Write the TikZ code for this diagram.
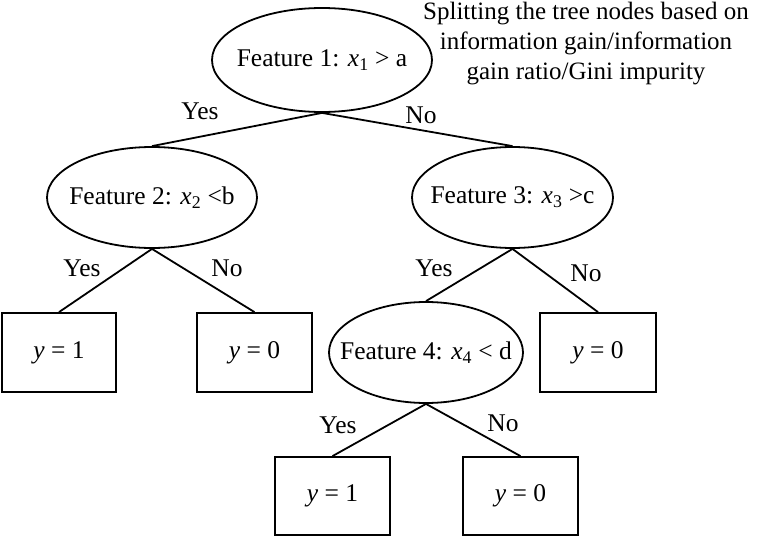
\documentclass[tikz,border=0pt]{standalone}
\usepackage{fontspec}
\setmainfont{Liberation Serif}
\usetikzlibrary{shapes.geometric}
\newcommand{\xs}[1]{\textit{x}\textsubscript{#1}}
\newcommand{\ovtext}[1]{\makebox[0pt]{#1}}
\begin{document}
\begin{tikzpicture}[x=1pt,y=-1pt,
  font=\fontsize{25.5}{30}\selectfont,
  every path/.style={line width=1.8pt},
  oval/.style={draw,ellipse,inner sep=0pt},
  leaf/.style={draw,rectangle,inner sep=0pt},
  lbl/.style={inner sep=0pt}]
\useasboundingbox (0,0) rectangle (758,538);
\node[oval,minimum width=220pt,minimum height=104pt] (e1) at (322,60) {\ovtext{Feature 1: \xs{1} > a}};
\node[oval,minimum width=210pt,minimum height=101pt] (e2) at (152,197.5) {\ovtext{Feature 2: \xs{2} <b}};
\node[oval,minimum width=201pt,minimum height=101pt] (e3) at (512.5,197.5) {\ovtext{Feature 3: \xs{3} >c}};
\node[oval,minimum width=194pt,minimum height=101pt] (e4) at (426,352.5) {\ovtext{Feature 4: \xs{4} < d}};
\node[leaf,minimum width=114pt,minimum height=79pt] (b1) at (59,352.5) {\textit{y} = 1};
\node[leaf,minimum width=115pt,minimum height=79pt] (b2) at (254.5,352.5) {\textit{y} = 0};
\node[leaf,minimum width=116pt,minimum height=79pt] (b3) at (598,352.5) {\textit{y} = 0};
\node[leaf,minimum width=115pt,minimum height=78pt] (b4) at (332.5,496) {\textit{y} = 1};
\node[leaf,minimum width=115pt,minimum height=78pt] (b5) at (520.5,496) {\textit{y} = 0};
\draw (e1.south) -- (e2.north);
\draw (e1.south) -- (e3.north);
\draw (e2.south) -- (b1.north);
\draw (e2.south) -- (b2.north);
\draw (e3.south) -- (e4.north);
\draw (e3.south) -- (b3.north);
\draw (e4.south) -- (b4.north);
\draw (e4.south) -- (b5.north);
\node[lbl] (l1) at (200,111) {Yes};
\node[lbl] (l2) at (421,115) {No};
\node[lbl] (l3) at (82,268) {Yes};
\node[lbl] (l4) at (227,268) {No};
\node[lbl] (l5) at (434,268) {Yes};
\node[lbl] (l6) at (586,273) {No};
\node[lbl] (l7) at (338,425) {Yes};
\node[lbl] (l8) at (503,423) {No};
\node[lbl,align=center,font=\fontsize{25}{30}\selectfont] (t) at (586,44) {Splitting the tree nodes based on\\information gain/information\\gain ratio/Gini impurity};
\end{tikzpicture}
\end{document}
